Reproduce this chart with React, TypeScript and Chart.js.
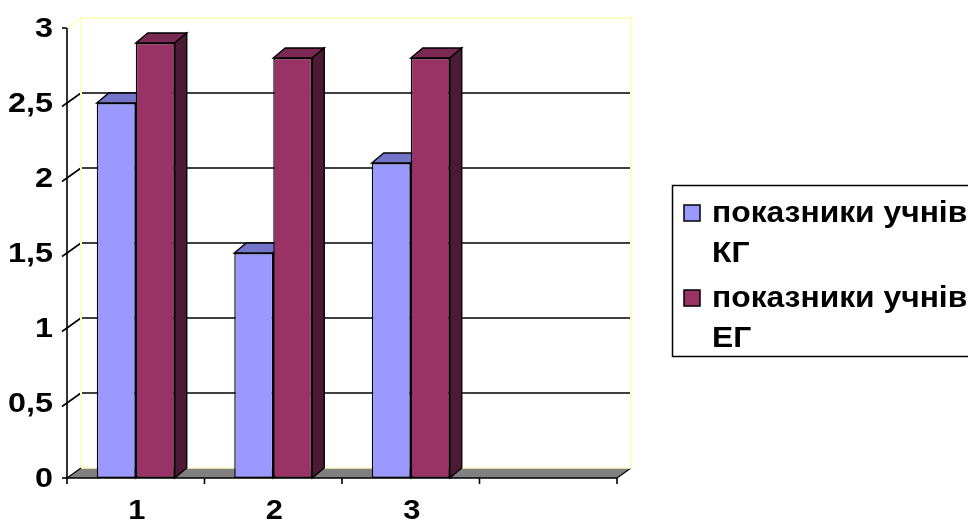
import React, { useEffect, useRef } from 'react';
import { Chart, registerables } from 'chart.js';

Chart.register(...registerables);

// Categories (the fourth slot is intentionally empty)
const categories = ['1', '2', '3', ''];
// Series values
const kgValues = [2.5, 1.5, 2.1, null];
const egValues = [2.9, 2.8, 2.8, null];
const seriesNames = ['показники учнів КГ', 'показники учнів ЕГ'];
// Value axis
const yMin = 0;
const yMax = 3;
const yStep = 0.5;

const FRONT = ['#9999ff', '#993366'];
const TOP = ['#7474c8', '#7a2952'];
const SIDE = ['#4d4d80', '#4d1a33'];

const WALL_DX = 14;
const WALL_DY = 10;
const BAR_DX = 12;
const BAR_DY = 10;
const WALL_EDGE = '#ffffc4';
const FONT = '"Liberation Sans", Arial, sans-serif';

type Pt = [number, number];

function poly(ctx: CanvasRenderingContext2D, pts: Pt[], fill: string, stroke = '#000', lw = 1) {
  ctx.beginPath();
  ctx.moveTo(pts[0][0], pts[0][1]);
  for (let i = 1; i < pts.length; i++) ctx.lineTo(pts[i][0], pts[i][1]);
  ctx.closePath();
  ctx.fillStyle = fill;
  ctx.fill();
  if (stroke) {
    ctx.strokeStyle = stroke;
    ctx.lineWidth = lw;
    ctx.stroke();
  }
}

function seg(ctx: CanvasRenderingContext2D, x0: number, y0: number, x1: number, y1: number) {
  ctx.beginPath();
  ctx.moveTo(x0, y0);
  ctx.lineTo(x1, y1);
  ctx.stroke();
}

const fmt = (v: number) => String(v).replace('.', ',');

// Walls, floor, grid and bar extrusions behind the bar fronts
const scene3d = {
  id: 'scene3d',
  beforeDatasetsDraw(chart: any) {
    const { ctx, chartArea: a, scales } = chart;
    const ys = scales.y;
    const xs = scales.x;
    const L = a.left, R = a.right, T = a.top, B = a.bottom;
    const bl = L + WALL_DX, br = R + WALL_DX, bt = T - WALL_DY, bb = B - WALL_DY;
    ctx.save();
    ctx.lineCap = 'butt';

    // back wall
    ctx.fillStyle = '#ffffff';
    ctx.fillRect(bl, bt, br - bl, bb - bt);

    // gridlines on the back wall + connectors to the front axis
    ctx.strokeStyle = '#000';
    ctx.lineWidth = 1.6;
    ys.ticks.forEach((t: any) => {
      const yf = ys.getPixelForValue(t.value);
      const yb = yf - WALL_DY;
      if (t.value > yMin && t.value < yMax) {
        seg(ctx, bl, yb, br, yb);
        seg(ctx, L - 5, yf + 3.5, bl, yb);
      } else {
        seg(ctx, L - 5, yf, L, yf);
      }
    });

    // wall edges
    ctx.strokeStyle = WALL_EDGE;
    ctx.lineWidth = 2;
    ctx.beginPath();
    ctx.moveTo(bl, bb);
    ctx.lineTo(bl, bt);
    ctx.lineTo(br, bt);
    ctx.lineTo(br, bb);
    ctx.stroke();
    seg(ctx, L, T, bl, bt);

    // floor
    poly(ctx, [[L, B], [R, B], [br, bb], [bl, bb]], '#808080', '', 0);
    ctx.strokeStyle = '#000';
    ctx.lineWidth = 1.2;
    seg(ctx, L, B, bl, bb);
    seg(ctx, R, B, br, bb);
    ctx.strokeStyle = WALL_EDGE;
    ctx.lineWidth = 1.5;
    seg(ctx, bl, bb, br, bb);

    // front axes
    ctx.strokeStyle = '#000';
    ctx.lineWidth = 1.6;
    seg(ctx, L, T, L, B);
    seg(ctx, L - 1, B, R, B);
    for (let i = 0; i <= categories.length; i++) {
      const x = xs.getPixelForValue(i - 0.5);
      seg(ctx, x, B, x, B + 6);
    }

    // bar tops and sides
    chart.data.datasets.forEach((ds: any, di: number) => {
      const meta = chart.getDatasetMeta(di);
      meta.data.forEach((bar: any, i: number) => {
        if (ds.data[i] == null) return;
        const { x, y, base, width } = bar.getProps(['x', 'y', 'base', 'width'], true);
        const x0 = x - width / 2;
        const x1 = x + width / 2;
        poly(ctx, [[x0, y], [x1, y], [x1 + BAR_DX, y - BAR_DY], [x0 + BAR_DX, y - BAR_DY]], TOP[di], '#000', 1.4);
        poly(ctx, [[x1, y], [x1 + BAR_DX, y - BAR_DY], [x1 + BAR_DX, base - BAR_DY], [x1, base]], SIDE[di], '#000', 1.4);
      });
    });
    ctx.restore();
  },
  afterDraw(chart: any) {
    const { ctx, chartArea: a, scales } = chart;
    const ys = scales.y;
    const xs = scales.x;
    ctx.save();
    ctx.fillStyle = '#000';
    ctx.textBaseline = 'middle';

    // value labels
    ctx.font = `bold 27px ${FONT}`;
    ctx.textAlign = 'right';
    ys.ticks.forEach((t: any) => {
      const y = ys.getPixelForValue(t.value);
      ctx.save();
      ctx.translate(a.left - 14, y + 2);
      ctx.scale(1.2, 1);
      ctx.fillText(fmt(t.value), 0, 0);
      ctx.restore();
    });

    // category labels
    ctx.font = `bold 28px ${FONT}`;
    ctx.textAlign = 'center';
    categories.forEach((c, i) => {
      if (!c) return;
      const x = xs.getPixelForValue(i);
      ctx.save();
      ctx.translate(x + 1, a.bottom + 33);
      ctx.scale(1.1, 1);
      ctx.fillText(c, 0, 0);
      ctx.restore();
    });

    // legend
    const boxL = 672, boxT = 185, boxB = 356;
    ctx.strokeStyle = '#000';
    ctx.lineWidth = 1.5;
    ctx.strokeRect(boxL + 0.5, boxT + 0.5, 400, boxB - boxT);
    ctx.font = `bold 30px ${FONT}`;
    ctx.textAlign = 'left';
    ctx.textBaseline = 'alphabetic';
    seriesNames.forEach((name, i) => {
      const top = 205 + i * 85;
      ctx.fillStyle = FRONT[i];
      ctx.fillRect(684, top, 16, 16);
      ctx.strokeStyle = '#000';
      ctx.lineWidth = 1.5;
      ctx.strokeRect(684, top, 16, 16);
      const cut = name.lastIndexOf(' ');
      const lines = [name.slice(0, cut), name.slice(cut + 1)];
      ctx.fillStyle = '#000';
      lines.forEach((ln, k) => {
        ctx.save();
        ctx.translate(712, top + 17 + k * 40);
        ctx.scale(1.06, 1);
        ctx.fillText(ln, 0, 0);
        ctx.restore();
      });
    });
    ctx.restore();
  },
};

export default function App() {
  const ref = useRef<HTMLCanvasElement | null>(null);

  useEffect(() => {
    if (!ref.current) return;
    const chart = new Chart(ref.current, {
      type: 'bar',
      data: {
        labels: categories,
        datasets: [
          {
            label: seriesNames[0],
            data: kgValues,
            backgroundColor: FRONT[0],
            borderColor: '#000',
            borderWidth: 1.4,
            borderSkipped: false,
            categoryPercentage: 0.567,
            barPercentage: 1,
          },
          {
            label: seriesNames[1],
            data: egValues,
            backgroundColor: FRONT[1],
            borderColor: '#000',
            borderWidth: 1.4,
            borderSkipped: false,
            categoryPercentage: 0.567,
            barPercentage: 1,
          },
        ],
      },
      options: {
        responsive: false,
        animation: false,
        layout: { padding: { left: 0, right: 351, top: 28, bottom: 0 } },
        plugins: {
          legend: { display: false },
          tooltip: { enabled: false },
        },
        scales: {
          x: {
            offset: true,
            grid: { display: false, drawTicks: false },
            border: { display: false },
            ticks: { display: false },
            afterFit: (s: any) => {
              s.height = 46;
            },
          },
          y: {
            min: yMin,
            max: yMax,
            ticks: { display: false, stepSize: yStep },
            grid: { display: false, drawTicks: false },
            border: { display: false },
            afterFit: (s: any) => {
              s.width = 67;
            },
          },
        },
      },
      plugins: [scene3d],
    });
    return () => chart.destroy();
  }, []);

  return (
    <div style={{ position: 'absolute', left: 0, top: 0, width: 968, height: 524, background: '#fff' }}>
      <canvas ref={ref} width={968} height={524} />
    </div>
  );
}
